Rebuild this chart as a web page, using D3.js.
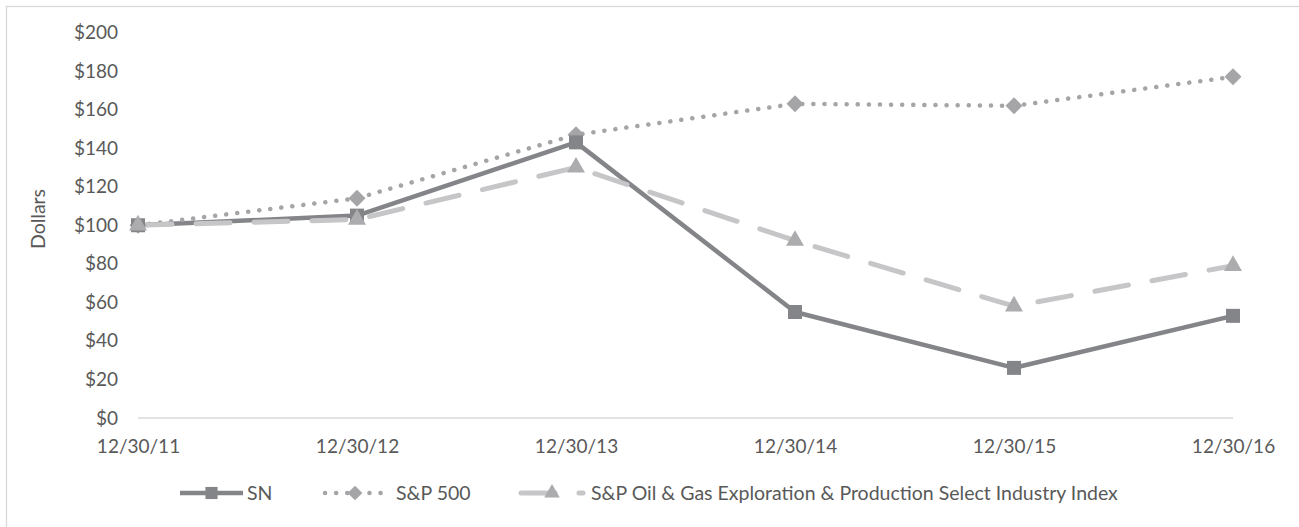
<!DOCTYPE html>
<html><head><meta charset="utf-8">
<script src="https://cdn.jsdelivr.net/npm/d3@7"></script>
<style>
body{margin:0;background:#fff}
svg{display:block}
text{font-family:Lato,"Open Sans",sans-serif;fill:#595959}
</style>
</head><body>
<svg id="chart" width="1299" height="527"></svg>
<script>
const categories = ["12/30/11","12/30/12","12/30/13","12/30/14","12/30/15","12/30/16"];
const snValues = [100, 105, 143, 55, 26, 53];
const sp500Values = [100, 114, 147, 163, 162, 177];
const oilGasValues = [100, 103, 130, 92, 58, 79];
const yTickValues = [0, 20, 40, 60, 80, 100, 120, 140, 160, 180, 200];
const seriesNames = ["SN", "S&P 500", "S&P Oil & Gas Exploration & Production Select Industry Index"];

const svg = d3.select("#chart");
const FS = 19;

// outer frame
svg.append("rect").attr("x", 6.5).attr("y", 6.5).attr("width", 1400).attr("height", 600)
  .attr("fill", "none").attr("stroke", "#d9d9d9").attr("stroke-width", 1.3);

const x = d3.scalePoint().domain(categories).range([138, 1233]);
const y = d3.scaleLinear().domain([0, 200]).range([418, 32.5]);

// y axis
const yAxis = svg.append("g").attr("transform", "translate(138,0)")
  .call(d3.axisLeft(y).tickValues(yTickValues).tickFormat(d => "$" + d).tickSize(0).tickPadding(20));
yAxis.select(".domain").remove();
yAxis.selectAll("text").style("font-size", FS + "px").attr("fill", "#595959");

// x axis
const xAxis = svg.append("g").attr("transform", "translate(0,418)")
  .call(d3.axisBottom(x).tickSize(0).tickPadding(22));
xAxis.select(".domain").remove();
xAxis.selectAll("text").style("font-size", FS + "px").attr("fill", "#595959");

// baseline
svg.append("line").attr("x1", x(categories[0])).attr("x2", x(categories[categories.length - 1]))
  .attr("y1", y(0)).attr("y2", y(0)).attr("stroke", "#d9d9d9").attr("stroke-width", 1.5);

// y title
svg.append("text").attr("transform", "translate(45,219) rotate(-90)")
  .attr("text-anchor", "middle").style("font-size", "19.5px").text("Dollars");

const series = [
  {name: seriesNames[0], values: snValues, color: "#848589", marker: "#848589", width: 4.5, dash: null, cap: "butt", shape: d3.symbolSquare, size: 196, rot: 0},
  {name: seriesNames[1], values: sp500Values, color: "#a5a5a8", marker: "#a5a5a8", width: 4.5, dash: "0.1 11", cap: "round", shape: d3.symbolSquare, size: 144, rot: 45},
  {name: seriesNames[2], values: oilGasValues, color: "#c6c6c8", marker: "#acacaf", width: 5, dash: "34 24", cap: "round", shape: d3.symbolTriangle, size: 140, rot: 0}
];

const line = d3.line().x((d, i) => x(categories[i])).y(d => y(d));

series.forEach(s => {
  svg.append("path").datum(s.values).attr("d", line)
    .attr("fill", "none").attr("stroke", s.color).attr("stroke-width", s.width)
    .attr("stroke-dasharray", s.dash).attr("stroke-linecap", s.cap).attr("stroke-linejoin", "round");
});

[series[1], series[0], series[2]].forEach(s => {
  svg.append("g").selectAll("path").data(s.values).join("path")
    .attr("transform", (d, i) => `translate(${x(categories[i])},${y(d)}) rotate(${s.rot})`)
    .attr("d", d3.symbol().type(s.shape).size(s.size))
    .attr("fill", s.marker);
});

// legend
const legendY = 493;
const legendItems = [
  {s: series[0], x0: 180, x1: 243, tx: 247},
  {s: series[1], x0: 325, x1: 385, tx: 396},
  {s: series[2], x0: 521, x1: 583, tx: 591}
];
legendItems.forEach(li => {
  const g = svg.append("g");
  g.append("line").attr("x1", li.x0).attr("x2", li.x1).attr("y1", legendY).attr("y2", legendY)
    .attr("stroke", li.s.color).attr("stroke-width", li.s.width)
    .attr("stroke-dasharray", li.s.dash).attr("stroke-linecap", li.s.cap);
  g.append("path").attr("transform", `translate(${(li.x0 + li.x1) / 2},${legendY}) rotate(${li.s.rot})`)
    .attr("d", d3.symbol().type(li.s.shape).size(li.s.size * 0.75)).attr("fill", li.s.marker);
  g.append("text").attr("x", li.tx).attr("y", legendY).attr("dy", "0.35em")
    .style("font-size", "19.5px").text(li.s.name);
});
</script>
</body></html>
